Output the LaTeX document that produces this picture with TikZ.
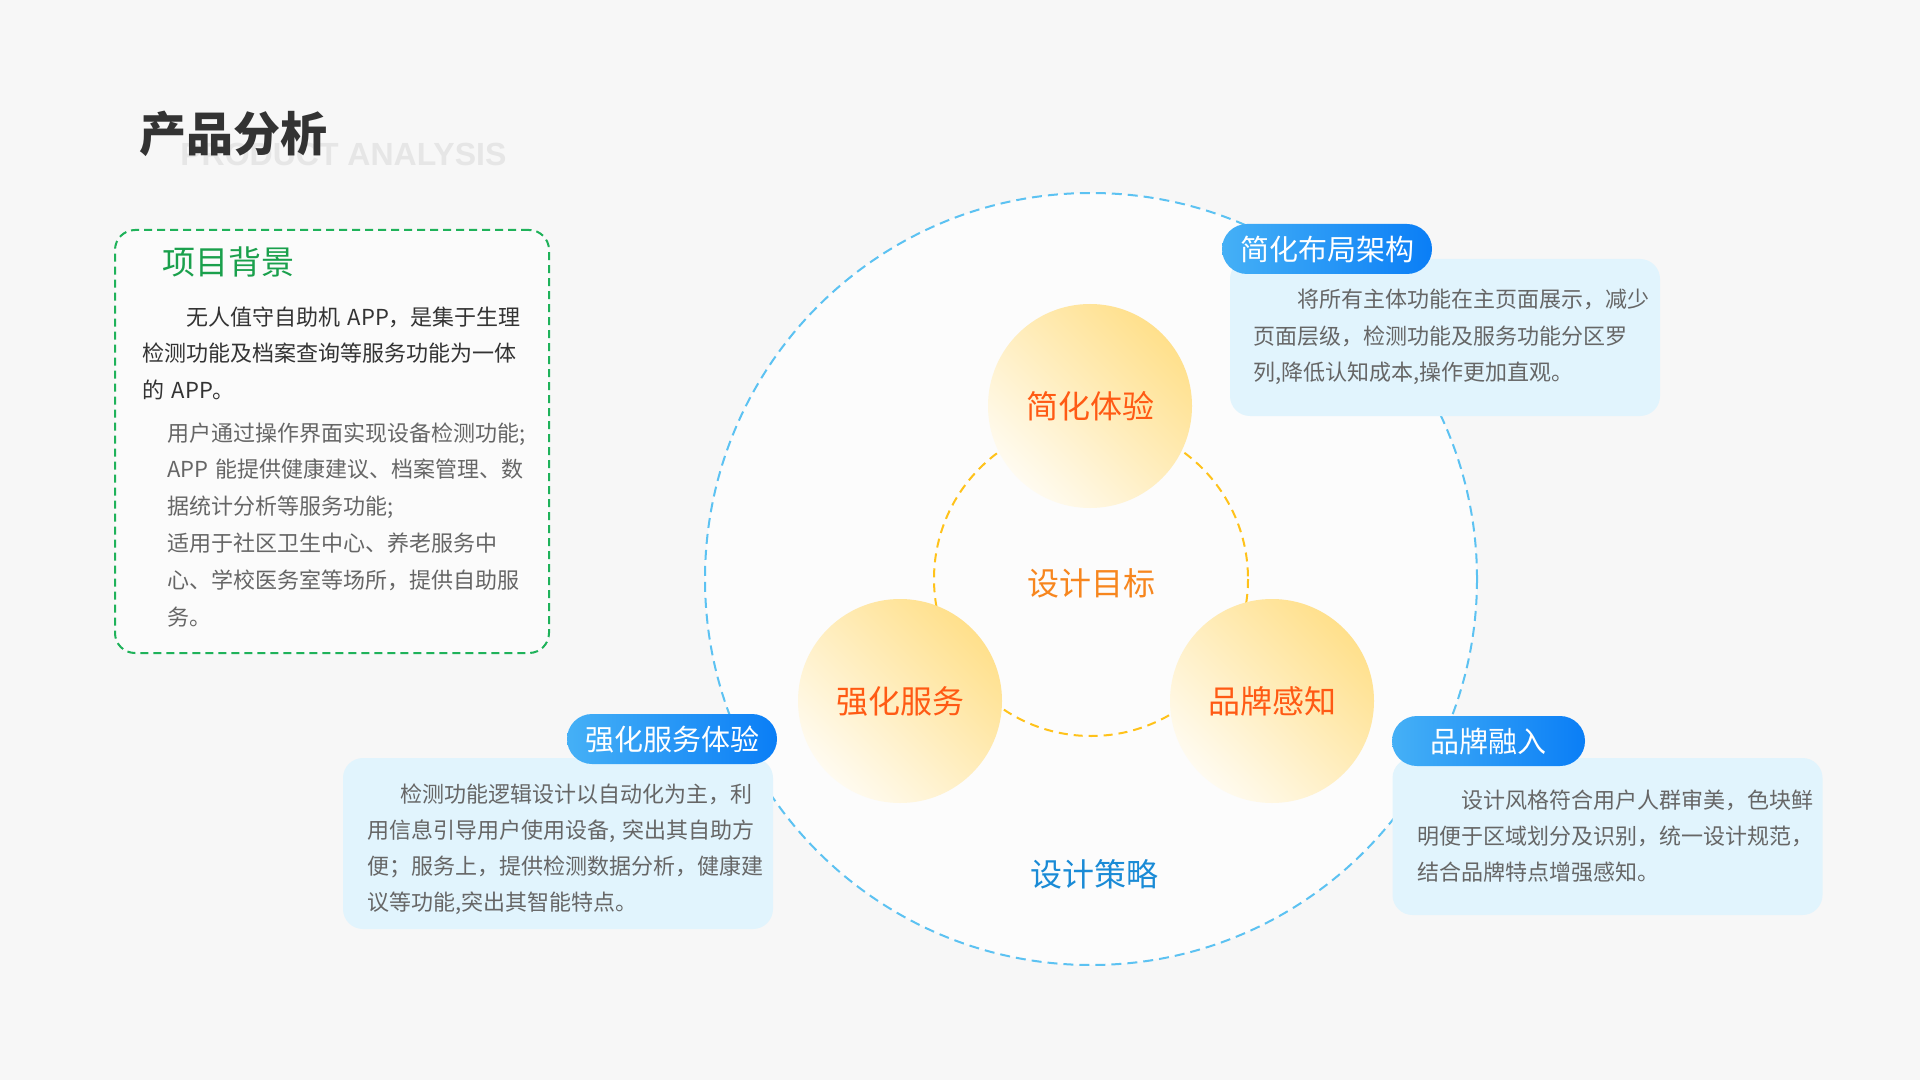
\documentclass[tikz,border=0pt]{standalone}
\usepackage{fontspec}
\setmainfont{Noto Sans CJK SC}
\newfontfamily\latinbold{Liberation Sans}
\usetikzlibrary{positioning}
\definecolor{pagebg}{HTML}{F7F7F7}
\definecolor{ringfill}{HTML}{FCFCFC}
\definecolor{ringblue}{HTML}{5CC2F2}
\definecolor{ringgold}{HTML}{FFC21A}
\definecolor{leafgreen}{HTML}{1FB25A}
\definecolor{headgreen}{HTML}{1AA04C}
\definecolor{boxblue}{HTML}{E1F4FD}
\definecolor{pillleft}{HTML}{45B0F6}
\definecolor{pillright}{HTML}{0A7EF6}
\definecolor{bubblegold}{HTML}{FFE08C}
\definecolor{bubblepale}{HTML}{FFFBF0}
\definecolor{flame}{HTML}{FF5A14}
\definecolor{goalorange}{HTML}{F7861E}
\definecolor{stratblue}{HTML}{1A8BD6}
\definecolor{inkdark}{HTML}{333333}
\definecolor{inkgray}{HTML}{666666}
\definecolor{ghost}{HTML}{E6E6E6}

\begin{document}
\begin{tikzpicture}[x=0.5pt, y=-0.5pt,
  bubble/.style={circle, minimum size=102pt, inner sep=0pt, top color=bubblegold, bottom color=bubblepale, shading angle=-45, text=flame, font=\fontsize{16pt}{18pt}\selectfont},
  pill/.style={rectangle, rounded corners=12.5pt, minimum height=25pt, inner sep=0pt, left color=pillleft, right color=pillright, text=white, font=\fontsize{14.5pt}{16pt}\selectfont},
  infobox/.style={rectangle, rounded corners=10pt, fill=boxblue, inner sep=0pt, minimum width=215pt},
  para/.style={anchor=base west, inner sep=0pt, text width=200pt, align=left, text=inkgray, font=\fontsize{11pt}{18pt}\selectfont}]
\useasboundingbox (0,0) rectangle (1920,1080);
\fill[pagebg] (0,0) rectangle (1920,1080);

% title
\node[anchor=west, inner sep=0pt, text=ghost, font=\latinbold\fontsize{16pt}{18pt}\selectfont\bfseries] (ghostsub) at (180,154.5) {PRODUCT ANALYSIS};
\node[anchor=west, inner sep=0pt, text=inkdark, font=\fontsize{23.5pt}{26pt}\selectfont\bfseries] (title) at (139,134) {产品分析};

% rings
\coordinate (core) at (1091,579);
\draw[ringblue, line width=1pt, dash pattern=on 5pt off 3pt, fill=ringfill] (core) circle[radius=386];
\draw[ringgold, line width=1pt, dash pattern=on 4.5pt off 3pt] (core) circle[radius=157];

% goals
\node[bubble] (simplify) at (1090,406) {简化体验};
\node[bubble] (service) at (900,701) {强化服务};
\node[bubble] (brand) at (1272,701) {品牌感知};
\node[text=goalorange, font=\fontsize{16pt}{18pt}\selectfont] (goal) at (1091,583) {设计目标};
\node[text=stratblue, font=\fontsize{16pt}{18pt}\selectfont] (strategy) at (1094,874) {设计策略};

% background box
\node[draw=leafgreen, line width=1pt, dash pattern=on 4pt off 2.5pt, fill=white!50!pagebg, rounded corners=10pt, minimum width=217pt, minimum height=211.5pt, inner sep=0pt] (bgbox) at (332,441.5) {};
\node[text=headgreen, font=\fontsize{16.5pt}{18pt}\selectfont] (bghead) at (228,262) {项目背景};
\node[para, text=inkdark] (bgintro) at (142,326) {\hspace*{2em}无人值守自助机 APP，是集于生理\\检测功能及档案查询等服务功能为一体\\的 APP。};
\node[para, font=\fontsize{11pt}{18.4pt}\selectfont] (bgdetail) at (167,441) {用户通过操作界面实现设备检测功能;\\APP 能提供健康建议、档案管理、数\\据统计分析等服务功能;\\适用于社区卫生中心、养老服务中\\心、学校医务室等场所，提供自助服\\务。};

% strategy boxes
\node[infobox, minimum height=78.5pt] (layoutbox) at (1445,337.5) {};
\node[infobox, minimum height=85.5pt] (servicebox) at (558,843.5) {};
\node[infobox, minimum height=78.5pt] (brandbox) at (1607.5,836.5) {};
\node[pill, minimum width=105pt] (layoutpill) at (1327,249) {简化布局架构};
\node[pill, minimum width=105pt] (servicepill) at (672,739) {强化服务体验};
\node[pill, minimum width=96.5pt] (brandpill) at (1488.5,741) {品牌融入};
\node[para] (layouttext) at (1253,308) {\hspace*{2em}将所有主体功能在主页面展示，减少\\页面层级，检测功能及服务功能分区罗\\列,降低认知成本,操作更加直观。};
\node[para] (servicetext) at (367,802) {\hspace*{1.5em}检测功能逻辑设计以自动化为主，利\\用信息引导用户使用设备, 突出其自助方\\便；服务上，提供检测数据分析，健康建\\议等功能,突出其智能特点。};
\node[para] (brandtext) at (1417,808) {\hspace*{2em}设计风格符合用户人群审美，色块鲜\\明便于区域划分及识别，统一设计规范，\\结合品牌特点增强感知。};
\end{tikzpicture}
\end{document}
